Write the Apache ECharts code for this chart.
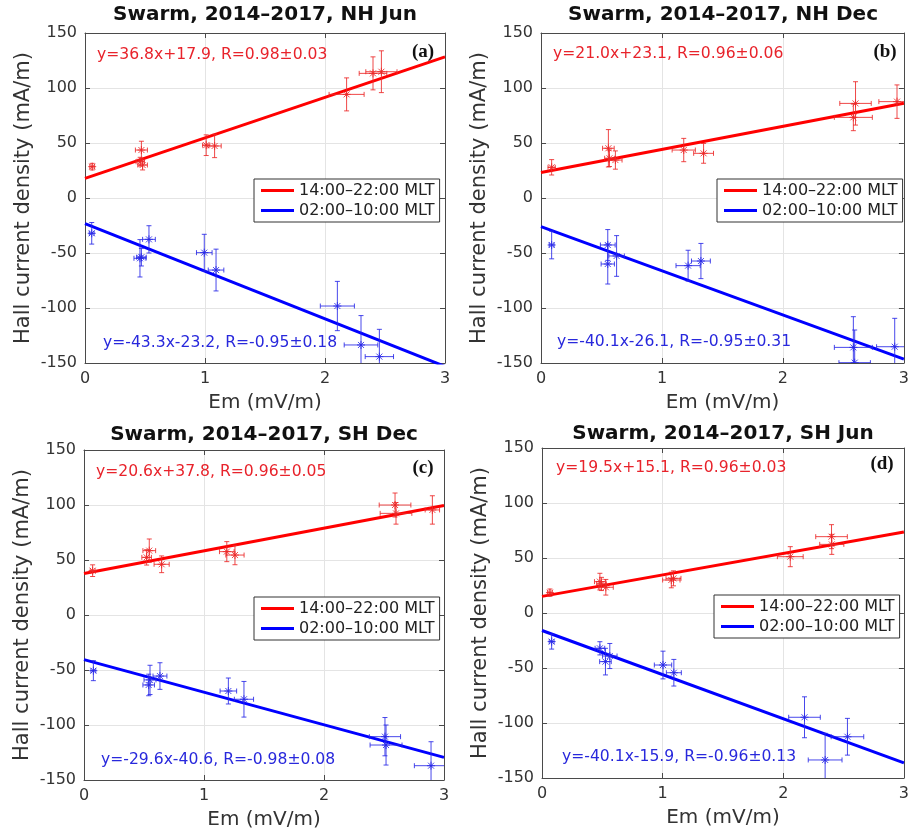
<!DOCTYPE html>
<html>
<head>
<meta charset="utf-8">
<script src="https://cdn.jsdelivr.net/npm/echarts@6/dist/echarts.min.js"></script>
<style>
html,body{margin:0;padding:0;background:#fff;}
#chart{width:912px;height:837px;}
</style>
</head>
<body>
<div id="chart"></div>
<script>
// ---------- chart text ----------
const titles = ['Swarm, 2014\u20132017, NH Jun', 'Swarm, 2014\u20132017, NH Dec', 'Swarm, 2014\u20132017, SH Dec', 'Swarm, 2014\u20132017, SH Jun'];
const panelTags = ['(a)', '(b)', '(c)', '(d)'];
const legendNames = ['14:00\u201322:00 MLT', '02:00\u201310:00 MLT'];
const xAxisName = 'Em (mV/m)';
const yAxisName = 'Hall current density (mA/m)';
const dayEq = ['y=36.8x+17.9, R=0.98\u00b10.03', 'y=21.0x+23.1, R=0.96\u00b10.06', 'y=20.6x+37.8, R=0.96\u00b10.05', 'y=19.5x+15.1, R=0.96\u00b10.03'];
const nightEq = ['y=-43.3x-23.2, R=-0.95\u00b10.18', 'y=-40.1x-26.1, R=-0.95\u00b10.31', 'y=-29.6x-40.6, R=-0.98\u00b10.08', 'y=-40.1x-15.9, R=-0.96\u00b10.13'];

// ---------- fit coefficients ----------
const daySlope = [36.8, 21.0, 20.6, 19.5];
const dayIntercept = [17.9, 23.1, 37.8, 15.1];
const nightSlope = [-43.3, -40.1, -29.6, -40.1];
const nightIntercept = [-23.2, -26.1, -40.6, -15.9];
const xRange = [0, 3];

// ---------- panel (a) ----------
const aDayEm = [0.06, 0.47, 0.46, 0.48, 1.01, 1.08, 2.18, 2.40, 2.47];
const aDayJ = [28.5, 43.6, 33.0, 30.0, 48.0, 47.3, 94.2, 113.3, 114.8];
const aDayEmErr = [0.02, 0.05, 0.035, 0.04, 0.03, 0.055, 0.146, 0.115, 0.13];
const aDayJErr = [3, 8, 4, 4.5, 9.4, 10.6, 15, 15, 19];
const aNightEm = [0.056, 0.458, 0.47, 0.533, 0.994, 1.092, 2.103, 2.30, 2.453];
const aNightJ = [-32.1, -54.8, -53.8, -37.6, -49.7, -65.5, -98.2, -133.6, -144.2];
const aNightEmErr = [0.02, 0.05, 0.04, 0.053, 0.065, 0.065, 0.142, 0.14, 0.118];
const aNightJErr = [9.8, 17, 8, 12.4, 16.7, 19, 22.4, 26.7, 24.8];

// ---------- panel (b) ----------
const bDayEm = [0.088, 0.557, 0.566, 0.615, 1.18, 1.344, 2.60, 2.582, 2.943];
const bDayJ = [27.9, 45.2, 36.1, 34.5, 43.6, 40.6, 86.0, 73.3, 87.6];
const bDayEmErr = [0.03, 0.048, 0.04, 0.055, 0.096, 0.082, 0.13, 0.157, 0.15];
const bDayJErr = [7, 17, 7.5, 8.3, 10.6, 9, 19.7, 12.1, 15.2];
const bNightEm = [0.088, 0.552, 0.552, 0.625, 1.216, 1.322, 2.582, 2.593, 2.924];
const bNightJ = [-42.7, -42.7, -60.0, -52.7, -61.5, -57.3, -135.8, -149.7, -135.2];
const bNightEmErr = [0.02, 0.061, 0.055, 0.064, 0.10, 0.078, 0.157, 0.13, 0.15];
const bNightJErr = [12.6, 14, 18.2, 18.5, 14, 16, 27.9, 29.7, 25.8];

// ---------- panel (c) ----------
const cDayEm = [0.072, 0.544, 0.522, 0.647, 1.19, 1.258, 2.592, 2.60, 2.903];
const cDayJ = [40.3, 58.5, 52.4, 46.1, 57.6, 54.5, 100.0, 92.4, 95.5];
const cDayEmErr = [0.02, 0.053, 0.04, 0.063, 0.061, 0.076, 0.132, 0.132, 0.06];
const cDayJErr = [5.3, 10.6, 7, 7.6, 9.1, 8.8, 10.9, 9.8, 12.9];
const cNightEm = [0.078, 0.55, 0.539, 0.633, 1.203, 1.333, 2.508, 2.517, 2.892];
const cNightJ = [-50.6, -59.0, -63.6, -55.5, -69.1, -76.6, -110.6, -118.2, -137.0];
const cNightEmErr = [0.02, 0.05, 0.048, 0.058, 0.069, 0.08, 0.13, 0.133, 0.139];
const cNightJErr = [9.1, 13.3, 9.8, 12.1, 11.8, 16.2, 17.4, 18.2, 21.8];

// ---------- panel (d) ----------
const dDayEm = [0.066, 0.48, 0.493, 0.529, 1.072, 1.09, 2.058, 2.40, 2.402];
const dDayJ = [18.5, 28.5, 26.4, 23.4, 30.0, 31.5, 51.2, 69.4, 62.4];
const dDayEmErr = [0.02, 0.045, 0.04, 0.062, 0.072, 0.062, 0.107, 0.131, 0.10];
const dDayJErr = [3.3, 7.6, 6, 7.1, 7.1, 6.8, 9.1, 10.9, 9.1];
const dNightEm = [0.08, 0.48, 0.526, 0.562, 1.003, 1.093, 2.176, 2.347, 2.532];
const dNightJ = [-26.0, -32.1, -44.2, -39.1, -47.3, -54.3, -94.8, -133.6, -112.5];
const dNightEmErr = [0.02, 0.04, 0.048, 0.06, 0.072, 0.062, 0.131, 0.14, 0.135];
const dNightJErr = [6.8, 6, 12.1, 11.4, 12.6, 12.1, 18.6, 24.2, 16.7];

// ---------- assembly ----------
const panels = [
  {day: [aDayEm, aDayJ, aDayEmErr, aDayJErr], night: [aNightEm, aNightJ, aNightEmErr, aNightJErr]},
  {day: [bDayEm, bDayJ, bDayEmErr, bDayJErr], night: [bNightEm, bNightJ, bNightEmErr, bNightJErr]},
  {day: [cDayEm, cDayJ, cDayEmErr, cDayJErr], night: [cNightEm, cNightJ, cNightEmErr, cNightJErr]},
  {day: [dDayEm, dDayJ, dDayEmErr, dDayJErr], night: [dNightEm, dNightJ, dNightEmErr, dNightJErr]}
];

// layout (pixels)
const gridBoxes = [
  {left: 85, top: 33, width: 360, height: 330},
  {left: 541, top: 33, width: 365, height: 330},
  {left: 84, top: 450, width: 360, height: 330},
  {left: 542, top: 448, width: 363, height: 330}
];
const legendPos = [[254, 179], [717, 179], [254, 597], [714, 595]];
const titlePos = [[265, 15], [723, 15], [264, 435], [723, 434]];
const dayEqPos = [[97, 55], [553, 54], [96, 472], [556, 468]];
const nightEqPos = [[103, 343], [557, 342], [101, 760], [562, 757]];
const tagPos = [[423, 52], [885, 52], [423, 468], [882, 464]];

const RED = '#ff0000', BLUE = '#0000ff';
const RED_ERR = 'rgba(236,40,40,0.85)', BLUE_ERR = 'rgba(40,40,232,0.85)';
const AX = '#4a4a4a';
const FONT = 'DejaVu Sans';

function rows(arrs) {
  return arrs[0].map((v, i) => [v, arrs[1][i], arrs[2][i], arrs[3][i]]);
}

function errRenderer(color) {
  return function (params, api) {
    const x = api.value(0), y = api.value(1), dx = api.value(2), dy = api.value(3);
    const c = api.coord([x, y]);
    const l = api.coord([x - dx, y]), r = api.coord([x + dx, y]);
    const t = api.coord([x, y + dy]), b = api.coord([x, y - dy]);
    const cap = 2.5, s = 4, d = 3;
    const segs = [
      [l, r], [t, b],
      [[l[0], l[1] - cap], [l[0], l[1] + cap]],
      [[r[0], r[1] - cap], [r[0], r[1] + cap]],
      [[t[0] - cap, t[1]], [t[0] + cap, t[1]]],
      [[b[0] - cap, b[1]], [b[0] + cap, b[1]]],
      [[c[0] - s, c[1]], [c[0] + s, c[1]]],
      [[c[0], c[1] - s], [c[0], c[1] + s]],
      [[c[0] - d, c[1] - d], [c[0] + d, c[1] + d]],
      [[c[0] - d, c[1] + d], [c[0] + d, c[1] - d]]
    ];
    return {
      type: 'group',
      children: segs.map(sg => ({
        type: 'line',
        shape: {x1: sg[0][0], y1: sg[0][1], x2: sg[1][0], y2: sg[1][1]},
        style: {stroke: color, lineWidth: 1}
      }))
    };
  };
}

const grids = [], xAxes = [], yAxes = [], series = [], legends = [], graphics = [];

gridBoxes.forEach((g, i) => {
  grids.push({left: g.left, top: g.top, width: g.width, height: g.height, show: false});
  const tickStyle = {inside: true, length: 5, lineStyle: {color: AX}};
  xAxes.push({
    gridIndex: i, type: 'value', min: xRange[0], max: xRange[1], interval: 1, position: 'bottom',
    axisLine: {show: true, onZero: false, lineStyle: {color: AX}},
    axisTick: tickStyle,
    axisLabel: {fontSize: 16, color: '#333', fontFamily: FONT, margin: 8},
    splitLine: {show: true, lineStyle: {color: '#e4e4e4'}},
    name: xAxisName, nameLocation: 'middle', nameGap: 30,
    nameTextStyle: {fontSize: 20, color: '#333', fontFamily: FONT}
  });
  xAxes.push({
    gridIndex: i, type: 'value', min: xRange[0], max: xRange[1], interval: 1, position: 'top',
    axisLine: {show: true, onZero: false, lineStyle: {color: AX}},
    axisTick: tickStyle, axisLabel: {show: false}, splitLine: {show: false}
  });
  yAxes.push({
    gridIndex: i, type: 'value', min: -150, max: 150, interval: 50, position: 'left',
    axisLine: {show: true, onZero: false, lineStyle: {color: AX}},
    axisTick: tickStyle,
    axisLabel: {fontSize: 16, color: '#333', fontFamily: FONT, margin: 8},
    splitLine: {show: true, lineStyle: {color: '#e4e4e4'}},
    name: yAxisName, nameLocation: 'middle', nameGap: 51,
    nameTextStyle: {fontSize: 21, color: '#333', fontFamily: FONT}
  });
  yAxes.push({
    gridIndex: i, type: 'value', min: -150, max: 150, interval: 50, position: 'right',
    axisLine: {show: true, onZero: false, lineStyle: {color: AX}},
    axisTick: tickStyle, axisLabel: {show: false}, splitLine: {show: false}
  });

  const xi = 2 * i, yi = 2 * i;
  const p = panels[i];
  series.push({
    name: legendNames[0], type: 'line', xAxisIndex: xi, yAxisIndex: yi,
    data: xRange.map(x => [x, daySlope[i] * x + dayIntercept[i]]),
    showSymbol: false, symbol: 'none', clip: true, z: 2,
    lineStyle: {color: RED, width: 3}, itemStyle: {color: RED}, silent: true
  });
  series.push({
    name: legendNames[1], type: 'line', xAxisIndex: xi, yAxisIndex: yi,
    data: xRange.map(x => [x, nightSlope[i] * x + nightIntercept[i]]),
    showSymbol: false, symbol: 'none', clip: true, z: 2,
    lineStyle: {color: BLUE, width: 3}, itemStyle: {color: BLUE}, silent: true
  });
  series.push({
    type: 'custom', xAxisIndex: xi, yAxisIndex: yi, clip: true, z: 3,
    renderItem: errRenderer(RED_ERR), encode: {x: 0, y: 1}, data: rows(p.day), silent: true
  });
  series.push({
    type: 'custom', xAxisIndex: xi, yAxisIndex: yi, clip: true, z: 3,
    renderItem: errRenderer(BLUE_ERR), encode: {x: 0, y: 1}, data: rows(p.night), silent: true
  });

  legends.push({
    data: legendNames, left: legendPos[i][0], top: legendPos[i][1], orient: 'vertical',
    padding: [3, 5, 3, 7], itemGap: 3, itemWidth: 33, itemHeight: 3, icon: 'rect',
    borderColor: '#333', borderWidth: 1, backgroundColor: '#fff', borderRadius: 0,
    selectedMode: false, z: 10,
    textStyle: {fontSize: 16, fontFamily: FONT, color: '#222', lineHeight: 17}
  });

  graphics.push({
    type: 'text', x: titlePos[i][0], y: titlePos[i][1], z: 20,
    style: {text: titles[i], font: 'bold 20px "DejaVu Sans"', fill: '#111', textAlign: 'center', textVerticalAlign: 'middle'}
  });
  graphics.push({
    type: 'text', x: dayEqPos[i][0], y: dayEqPos[i][1], z: 20,
    style: {text: dayEq[i], font: '15.6px "DejaVu Sans"', fill: '#e8232b', textAlign: 'left', textVerticalAlign: 'middle'}
  });
  graphics.push({
    type: 'text', x: nightEqPos[i][0], y: nightEqPos[i][1], z: 20,
    style: {text: nightEq[i], font: '15.6px "DejaVu Sans"', fill: '#2828dc', textAlign: 'left', textVerticalAlign: 'middle'}
  });
  graphics.push({
    type: 'text', x: tagPos[i][0], y: tagPos[i][1], z: 20,
    style: {text: panelTags[i], font: 'bold 19px "Liberation Serif"', fill: '#111', textAlign: 'center', textVerticalAlign: 'middle'}
  });
});

const chart = echarts.init(document.getElementById('chart'), null, {renderer: 'canvas'});
chart.setOption({
  animation: false,
  backgroundColor: '#fff',
  grid: grids,
  xAxis: xAxes,
  yAxis: yAxes,
  legend: legends,
  series: series,
  graphic: graphics
});
</script>
</body>
</html>
